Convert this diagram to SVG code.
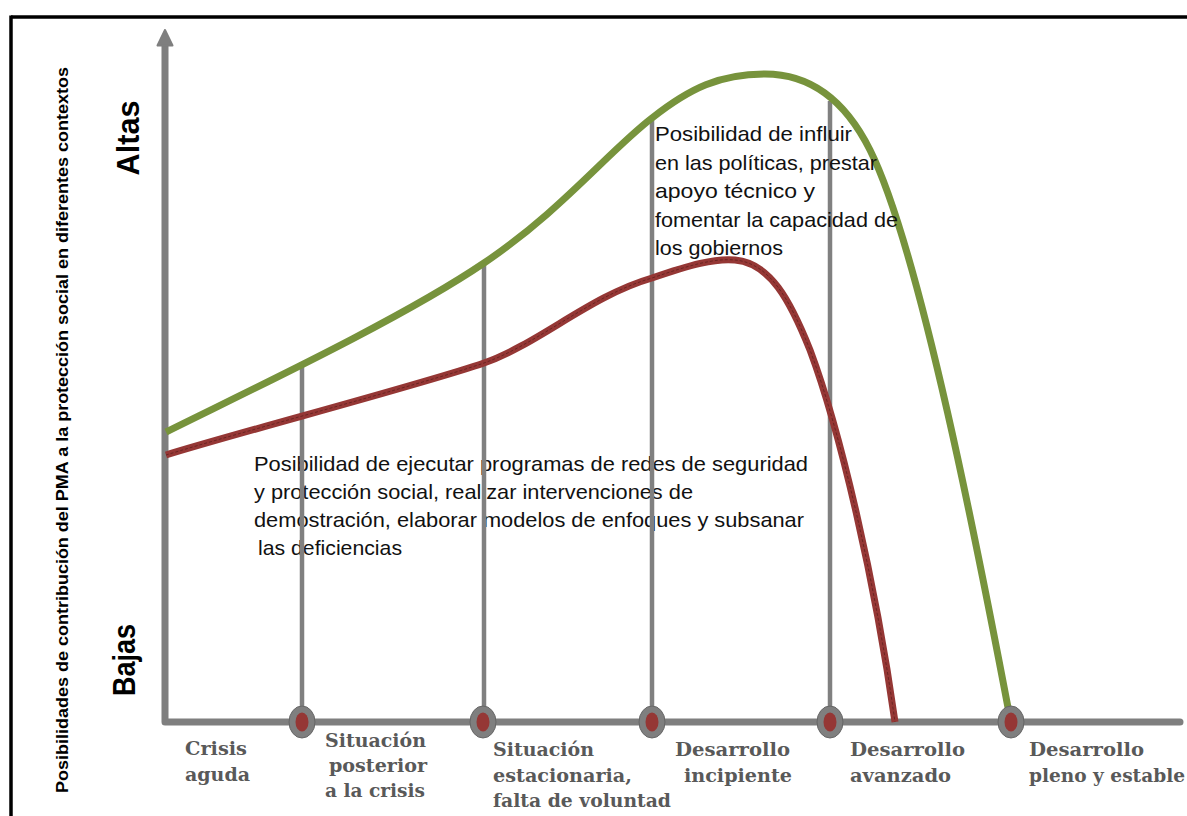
<svg xmlns="http://www.w3.org/2000/svg" width="1187" height="816" viewBox="0 0 1187 816">
<style>
.frame{stroke:#000;stroke-width:3.5;fill:none}
.axis{stroke:#7f7f7f;stroke-width:7;fill:none;stroke-linejoin:round;stroke-linecap:round}
.vline{stroke:#808080;stroke-width:4.5;fill:none}
.green{stroke:#77933c;stroke-width:7;fill:none;stroke-linecap:butt}
.red{stroke:#953735;stroke-width:7;fill:none}
.redc{stroke:#5e1f1d;stroke-width:0.8;fill:none;stroke-dasharray:3 2}
.ann{font-family:"Liberation Sans",Arial,sans-serif;font-size:21px;fill:#111}
.lab{font-family:"DejaVu Serif","Liberation Serif",serif;font-weight:bold;font-size:18.5px;fill:#595959}
.ylab{font-family:"Liberation Sans",Arial,sans-serif;font-weight:bold;fill:#000}
.ring{fill:#7f7f7f;stroke:#666;stroke-width:1}
.dot{fill:#953735}
</style>
<g id="frame">
<line class="frame" x1="11" y1="17" x2="1187" y2="17"/>
<line class="frame" x1="11" y1="15.5" x2="11" y2="816"/>
</g>
<g id="y-title">
<text class="ylab" font-size="16.5" text-anchor="middle" transform="translate(68,430) rotate(-90)" textLength="726" lengthAdjust="spacingAndGlyphs">Posibilidades de contribución del PMA a la protección social en diferentes contextos</text>
<text class="ylab" font-size="32" text-anchor="middle" transform="translate(139,138) rotate(-90)" textLength="75" lengthAdjust="spacingAndGlyphs">Altas</text>
<text class="ylab" font-size="32" text-anchor="middle" transform="translate(135,660) rotate(-90)" textLength="72" lengthAdjust="spacingAndGlyphs">Bajas</text>
</g>
<g id="text-lower">
<text class="ann" x="254" y="471" textLength="554" lengthAdjust="spacingAndGlyphs">Posibilidad de ejecutar programas  de redes de seguridad</text>
<text class="ann" x="254" y="499" textLength="439" lengthAdjust="spacingAndGlyphs">y protección social, realizar intervenciones de</text>
<text class="ann" x="254" y="527" textLength="550" lengthAdjust="spacingAndGlyphs">demostración, elaborar modelos de enfoques y subsanar</text>
<text class="ann" x="258" y="555" textLength="144" lengthAdjust="spacingAndGlyphs">las deficiencias</text>
</g>
<g id="connectors">
<line class="vline" x1="302" y1="362" x2="302" y2="722"/>
<line class="vline" x1="484" y1="262" x2="484" y2="722"/>
<line class="vline" x1="652" y1="117" x2="652" y2="722"/>
<line class="vline" x1="830" y1="101" x2="830" y2="722"/>
<path class="axis" d="M165,44 L165,722 L1180,722"/>
<path d="M165,30 L157.5,45.5 L172.5,45.5 Z" fill="#7f7f7f" stroke="#7f7f7f" stroke-width="2" stroke-linejoin="round"/>
</g>
<g id="curve-red">
<path class="red" d="M166,455 C240,432 420,385 484,363 C540,343 590,296 652,278 C690,265 715,258 735,260 C770,263 790,300 810,350 C840,430 875,580 895,722"/>
<path class="redc" d="M166,455 C240,432 420,385 484,363 C540,343 590,296 652,278 C690,265 715,258 735,260 C770,263 790,300 810,350 C840,430 875,580 895,722"/>
</g>
<g id="curve-green">
<path class="green" d="M166,432 C240,395 400,320 484,263 C560,212 610,150 652,118 C690,88 720,74 765,74 C810,74 845,100 870,150 C920,250 980,560 1010,718"/>
</g>
<g id="text-upper">
<text class="ann" x="655" y="141" textLength="197" lengthAdjust="spacingAndGlyphs">Posibilidad de influir</text>
<text class="ann" x="655" y="170" textLength="222" lengthAdjust="spacingAndGlyphs">en las políticas, prestar</text>
<text class="ann" x="655" y="198" textLength="160" lengthAdjust="spacingAndGlyphs">apoyo técnico y</text>
<text class="ann" x="655" y="227" textLength="243" lengthAdjust="spacingAndGlyphs">fomentar la capacidad de</text>
<text class="ann" x="655" y="255" textLength="128" lengthAdjust="spacingAndGlyphs">los gobiernos</text>
</g>
<g id="markers">
<ellipse class="ring" cx="302" cy="722" rx="13" ry="16"/><ellipse class="dot" cx="302" cy="722" rx="6.5" ry="9.5"/>
<ellipse class="ring" cx="483" cy="722" rx="13" ry="16"/><ellipse class="dot" cx="483" cy="722" rx="6.5" ry="9.5"/>
<ellipse class="ring" cx="652" cy="722" rx="13" ry="16"/><ellipse class="dot" cx="652" cy="722" rx="6.5" ry="9.5"/>
<ellipse class="ring" cx="830" cy="722" rx="13" ry="16"/><ellipse class="dot" cx="830" cy="722" rx="6.5" ry="9.5"/>
<ellipse class="ring" cx="1011" cy="722" rx="13" ry="16"/><ellipse class="dot" cx="1011" cy="722" rx="6.5" ry="9.5"/>
</g>
<g id="stage-labels">
<text class="lab" x="185" y="755" textLength="62" lengthAdjust="spacingAndGlyphs">Crisis</text>
<text class="lab" x="185" y="781" textLength="65" lengthAdjust="spacingAndGlyphs">aguda</text>
<text class="lab" x="325" y="747" textLength="101" lengthAdjust="spacingAndGlyphs">Situación</text>
<text class="lab" x="329" y="772" textLength="98" lengthAdjust="spacingAndGlyphs">posterior</text>
<text class="lab" x="325" y="797" textLength="100" lengthAdjust="spacingAndGlyphs">a la crisis</text>
<text class="lab" x="493" y="756" textLength="101" lengthAdjust="spacingAndGlyphs">Situación</text>
<text class="lab" x="493" y="782" textLength="139" lengthAdjust="spacingAndGlyphs">estacionaria,</text>
<text class="lab" x="493" y="807" textLength="178" lengthAdjust="spacingAndGlyphs">falta de voluntad</text>
<text class="lab" x="675" y="756" textLength="115" lengthAdjust="spacingAndGlyphs">Desarrollo</text>
<text class="lab" x="684" y="782" textLength="108" lengthAdjust="spacingAndGlyphs">incipiente</text>
<text class="lab" x="850" y="756" textLength="115" lengthAdjust="spacingAndGlyphs">Desarrollo</text>
<text class="lab" x="850" y="782" textLength="101" lengthAdjust="spacingAndGlyphs">avanzado</text>
<text class="lab" x="1029" y="756" textLength="115" lengthAdjust="spacingAndGlyphs">Desarrollo</text>
<text class="lab" x="1029" y="782" textLength="156" lengthAdjust="spacingAndGlyphs">pleno y estable</text>
</g>
</svg>
